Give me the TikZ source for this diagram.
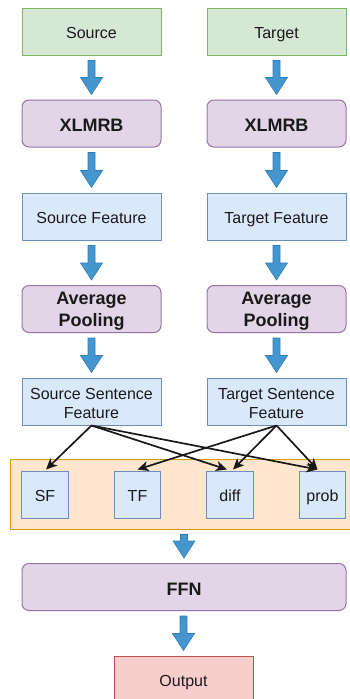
\documentclass[tikz,border=0pt]{standalone}
\usepackage{fontspec}
\setmainfont{Liberation Sans}
\usetikzlibrary{calc,arrows.meta}
\definecolor{gfill}{HTML}{D5E8D4}\definecolor{gdraw}{HTML}{82B366}
\definecolor{pfill}{HTML}{E1D5E7}\definecolor{pdraw}{HTML}{9673A6}
\definecolor{bfill}{HTML}{DAE8FC}\definecolor{bdraw}{HTML}{6C8EBF}
\definecolor{ofill}{HTML}{FFE6CC}\definecolor{odraw}{HTML}{D79B00}
\definecolor{rfill}{HTML}{F8CECC}\definecolor{rdraw}{HTML}{B85450}
\definecolor{afill}{HTML}{4596CF}\definecolor{adraw}{HTML}{2F7DB5}
\definecolor{txt}{HTML}{1A1A1A}
\tikzset{
  base/.style={line width=1pt, inner sep=0pt, align=center, text=txt,
    font=\fontsize{16}{19.5}\selectfont, text height=13.5pt, text depth=0pt},
  boldtext/.style={font=\fontsize{18}{21.7}\selectfont\bfseries, text height=16.9pt, text depth=0pt},
  greenbox/.style={base, draw=gdraw, fill=gfill, minimum width=139, minimum height=47},
  purplebox/.style={base, boldtext, draw=pdraw, fill=pfill, rounded corners=7, minimum width=139,
    minimum height=47},
  bluebox/.style={base, draw=bdraw, fill=bfill, minimum width=139, minimum height=47},
  smallbox/.style={base, draw=bdraw, fill=bfill, minimum width=46.5, minimum height=47},
  redbox/.style={base, draw=rdraw, fill=rfill, minimum width=139, minimum height=47},
  multi/.style={align=center, text=txt, inner sep=0pt},
  fat/.style={fill=afill, draw=adraw, line width=0.6pt, line join=miter},
  link/.style={line width=1.7pt, draw=black!90, -{Stealth[length=11pt,width=10pt,inset=3pt]}}
}
\newcommand\fatarrow[2]{%
  \path let \p1=($(#1.south)+(0,-5)$), \p2=($(#2.north)+(0,5)$) in
    [fat] (\x2-3.5pt,\y1) -- (\x2+3.5pt,\y1) -- (\x2+3.5pt,\y2+17pt) -- (\x2+11pt,\y2+17pt)
    -- (\x2,\y2) -- (\x2-11pt,\y2+17pt) -- (\x2-3.5pt,\y2+17pt) -- cycle;}
\begin{document}
\begin{tikzpicture}[x=1pt,y=1pt]
\useasboundingbox (0,0) rectangle (349,-699);
% container
\node[draw=odraw, fill=ofill, line width=1pt, minimum width=342, minimum height=70, inner sep=0pt] (cont) at (181,-494) {};
% columns
\node[greenbox] (src) at (91.5,-31.5) {Source};
\node[greenbox] (tgt) at (276.5,-31.5) {Target};
\node[purplebox] (xl1) at (91.5,-123.5) {XLMRB};
\node[purplebox] (xl2) at (276.5,-123.5) {XLMRB};
\node[bluebox] (sf1) at (91.5,-216.5) {Source Feature};
\node[bluebox] (sf2) at (276.5,-216.5) {Target Feature};
\node[purplebox, label={[multi, font=\fontsize{18}{21.7}\selectfont\bfseries, yshift=-2pt]center:Average\\Pooling}] (ap1) at (91.5,-309) {};
\node[purplebox, label={[multi, font=\fontsize{18}{21.7}\selectfont\bfseries, yshift=-2pt]center:Average\\Pooling}] (ap2) at (276.5,-309) {};
\node[bluebox, label={[multi, font=\fontsize{16}{19.5}\selectfont, yshift=-2pt]center:Source Sentence\\Feature}] (ss) at (91.5,-401.5) {};
\node[bluebox, label={[multi, font=\fontsize{16}{19.5}\selectfont, yshift=-2pt]center:Target Sentence\\Feature}] (ts) at (276.5,-401.5) {};
% small boxes
\node[smallbox] (sfb) at (45,-494.5) {SF};
\node[smallbox] (tfb) at (137.5,-494.5) {TF};
\node[smallbox] (diff) at (230,-494.5) {diff};
\node[smallbox] (prob) at (322.5,-494.5) {prob};
% bottom
\node[purplebox, minimum width=324] (ffn) at (184,-587) {FFN};
\node[redbox] (out) at (183.5,-679.5) {Output};
% fat arrows
\fatarrow{src}{xl1}\fatarrow{tgt}{xl2}
\fatarrow{xl1}{sf1}\fatarrow{xl2}{sf2}
\fatarrow{sf1}{ap1}\fatarrow{sf2}{ap2}
\fatarrow{ap1}{ss}\fatarrow{ap2}{ts}
\fatarrow{cont}{ffn}\fatarrow{ffn}{out}
% links
\draw[link] (ss.south) -- ($(sfb.north)+(1,1)$);
\draw[link] (ss.south) -- ($(diff.north)+(-3,1)$);
\draw[link] (ss.south) -- ($(prob.north)+(-5,1)$);
\draw[link] (ts.south) -- ($(tfb.north)+(0,1)$);
\draw[link] (ts.south) -- ($(diff.north)+(3,1)$);
\draw[link] (ts.south) -- ($(prob.north)+(-5,1)$);
\end{tikzpicture}
\end{document}
